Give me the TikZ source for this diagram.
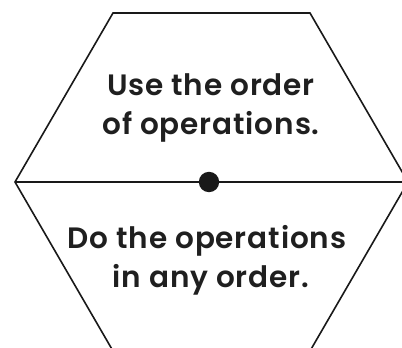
\documentclass[tikz,border=0pt]{standalone}
\usepackage{fontspec}
\setmainfont{Poppins}[BoldFont={Poppins SemiBold}, LetterSpace=3]
\begin{document}
\begin{tikzpicture}[x=1pt,y=1pt,
  edge/.style={line width=1.6pt, black!90, line join=miter},
  txt/.style={anchor=base, inner sep=0pt, font=\fontsize{29.5}{38}\selectfont\bfseries, text=black!88}]
\useasboundingbox (0,0) rectangle (402,348);
\clip (0,0) rectangle (402,348);
\coordinate (tl) at (113,335);
\coordinate (tr) at (310,335);
\coordinate (r) at (408,166);
\coordinate (br) at (310,-3);
\coordinate (bl) at (113,-3);
\coordinate (l) at (15,166);
\coordinate (re) at (402,166);
\draw[edge] (br) -- (r) -- (tr) -- (tl) -- (l) -- (bl);
\draw[edge] (l) -- (re);
\fill[black!90] (209,166) circle (10.2);
\node[txt] (t1) at (211,252) {Use the order};
\node[txt] (t2) at (211,213) {of operations.};
\node[txt] (b1) at (207,99) {Do the operations};
\node[txt] (b2) at (211,60) {in any order.};
\end{tikzpicture}
\end{document}
